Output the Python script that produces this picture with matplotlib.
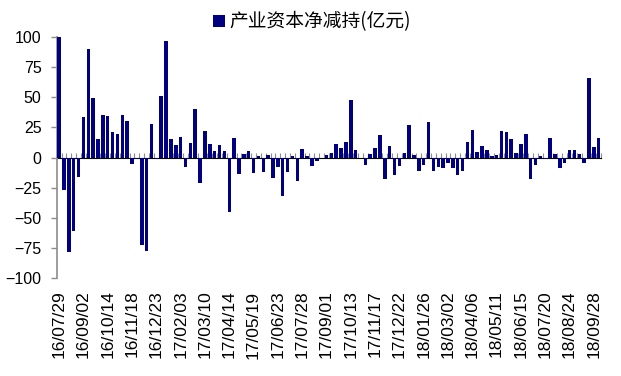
import numpy as np
import matplotlib.pyplot as plt

# weekly net reduction by industrial capital, 100m yuan
values = [100, -27, -78, -61, -16, 34, 90, 49.5, 15.5, 35,
          34.5, 21, 19.5, 35, 30, -5.5, -1, -72.5, -77.5, 28,
          -1, 51, 97, 15.5, 10.5, 17, -7.5, 12, 40, -21,
          22, 11, 5.5, 10.5, 5.5, -45, 16, -13.5, 3, 5.5,
          -12.5, 1.5, -12, 2, -17, -7.5, -32, -12, 1.5, -19.5,
          7, 1.5, -7, -3, -0.5, 2, 4, 11, 8, 13,
          48, 6.5, -0.5, -6.5, 3, 8, 19, -18, 9.5, -14.5,
          -7, 4, 27, 2, -11.5, -6.5, 29.5, -11.5, -7.5, -9,
          -4.5, -9, -14.5, -11.5, 13, 23, 4.5, 9.5, 6.5, 1.5,
          2, 22, 21, 15.5, 4, 11, 19.5, -18, -6.5, 1.5,
          -1, 16, 3, -9, -4.5, 6.5, 6.5, 3, -4.5, 66,
          8.5, 16]

tick_labels = ['16/07/29', '16/09/02', '16/10/14', '16/11/18', '16/12/23',
               '17/02/03', '17/03/10', '17/04/14', '17/05/19', '17/06/23',
               '17/07/28', '17/09/01', '17/10/13', '17/11/17', '17/12/22',
               '18/01/26', '18/03/02', '18/04/06', '18/05/11', '18/06/15',
               '18/07/20', '18/08/24', '18/09/28']
label_step = 5

series_name = '产业资本净减持(亿元)'
bar_color = '#000080'
axis_gray = '#8c8c8c'

fig = plt.figure(figsize=(6.21, 3.76), dpi=100)
ax = fig.add_axes([0.0913, 0.2606, 0.8767, 0.641])

x = np.arange(len(values))
ax.bar(x, values, width=0.72, color=bar_color, label=series_name, zorder=3)

ax.set_xlim(-0.5, len(values) - 0.5)
ax.set_ylim(-100, 100)
ax.set_yticks(np.arange(-100, 101, 25))
ax.tick_params(axis='y', direction='out', length=4, width=1, color=axis_gray,
               pad=7, labelsize=11.5)
for lab in ax.get_yticklabels():
    lab.set_fontfamily('Liberation Sans')

# category labels along the bottom, no tick marks there
ax.set_xticks(x[::label_step])
ax.set_xticklabels(tick_labels, rotation=90, fontsize=12.5, fontfamily='Liberation Sans')
ax.tick_params(axis='x', length=0, pad=9)

for side in ['top', 'right', 'bottom']:
    ax.spines[side].set_visible(False)
ax.spines['left'].set_color(axis_gray)
ax.spines['left'].set_linewidth(1.2)

# zero line with a tick between each category
zero = ax.secondary_xaxis(0.5)
zero.set_xticks(np.arange(-0.5, len(values), 1))
zero.set_xticklabels([])
zero.tick_params(axis='x', direction='out', length=3.5, width=0.8, color=axis_gray)
zero.spines['bottom'].set_color(axis_gray)
zero.spines['bottom'].set_linewidth(1.2)

ax.legend(loc='center', bbox_to_anchor=(0.469, 1.062), frameon=False,
          handlelength=0.6, handleheight=0.6, handletextpad=0.25,
          borderaxespad=0, borderpad=0,
          prop={'family': ['Noto Sans CJK SC', 'DejaVu Sans'], 'size': 13.5})

fig.savefig('out.png', dpi=100)
